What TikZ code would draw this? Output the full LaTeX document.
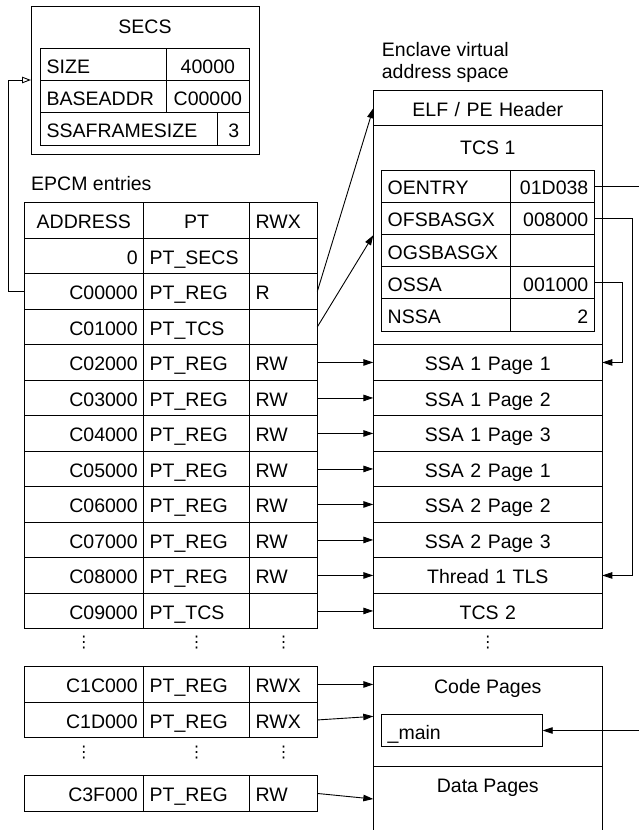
\documentclass[tikz,border=0pt]{standalone}
\usepackage{fontspec}
\setmainfont{Liberation Sans}
\newfontfamily\dejavu{DejaVu Sans}
\usetikzlibrary{arrows.meta}
\newcommand{\celltxt}{\fontsize{19.5}{22}\selectfont}
\newcommand{\vdts}{{\dejavu\fontsize{16}{16}\selectfont ⋮}}
\tikzset{
  cell/.style={draw,line width=1pt,outer sep=0pt,inner xsep=6pt,inner ysep=0pt,anchor=north west,
    minimum height=35.5,text height=17,text depth=0,font=\celltxt},
  lcell/.style={cell,minimum width=#1,text width=#1pt-12pt,align=left},
  rcell/.style={cell,minimum width=#1,text width=#1pt-12pt,align=right},
  ccell/.style={cell,minimum width=#1,text width=#1pt-12pt,align=center},
  lbl/.style={font=\celltxt,inner sep=0pt,text height=14,text depth=0},
  dots/.style={inner sep=0pt},
  ptr/.style={-{Triangle[length=10,width=6.5]},line width=0.9pt},
  optr/.style={-{Triangle[open,length=9,width=6.5]},line width=0.9pt},
}
\begin{document}
\begin{tikzpicture}[x=1pt,y=-1pt]
\useasboundingbox (0,0) rectangle (639,830);
% SECS page
\node[cell,minimum width=228,minimum height=148] (secs) at (31,6) {};
\node[lbl] (secst) at (145,26.2) {SECS};
\node[lcell=125.3,minimum height=32.1] (size) at (40.7,48.7) {SIZE};
\node[ccell=83.7,minimum height=32.1] (sizev) at (166,48.7) {40000};
\node[lcell=125.3,minimum height=32.1] (base) at (40.7,80.8) {BASEADDR};
\node[ccell=83.7,minimum height=32.1] (basev) at (166,80.8) {C00000};
\node[lcell=177,minimum height=32.1] (ssaf) at (40.7,112.9) {SSAFRAMESIZE};
\node[ccell=32,minimum height=32.1] (ssafv) at (217.7,112.9) {3};
% EPCM table
\node[lbl,anchor=west] (epcm) at (31,183) {EPCM entries};
\node[ccell=119.7] (ha) at (24,202.7) {ADDRESS};
\node[ccell=106] (hp) at (143.7,202.7) {PT};
\node[lcell=67.6] (hr) at (249.7,202.7) {RWX};
\foreach \n/\y/\addr/\ptype/\perm in {
  1/238.2/0/PT\_SECS/{},
  2/273.7/C00000/PT\_REG/R,
  3/309.2/C01000/PT\_TCS/{},
  4/344.7/C02000/PT\_REG/RW,
  5/380.2/C03000/PT\_REG/RW,
  6/415.7/C04000/PT\_REG/RW,
  7/451.2/C05000/PT\_REG/RW,
  8/486.7/C06000/PT\_REG/RW,
  9/522.2/C07000/PT\_REG/RW,
  10/557.7/C08000/PT\_REG/RW,
  11/593.2/C09000/PT\_TCS/{},
  12/666.7/C1C000/PT\_REG/RWX,
  13/702.2/C1D000/PT\_REG/RWX,
  14/775.7/C3F000/PT\_REG/RW} {
  \node[rcell=119.7] (a\n) at (24,\y) {\addr};
  \node[lcell=106] (p\n) at (143.7,\y) {\ptype};
  \node[lcell=67.6] (r\n) at (249.7,\y) {\perm};
}
\foreach \x/\c in {83.8/a,196.7/p,283.5/r} {
  \node[dots] (\c dotsa) at (\x,643) {\vdts};
  \node[dots] (\c dotsb) at (\x,752.7) {\vdts};
}
% enclave virtual address space
\node[font=\celltxt,inner sep=0pt,anchor=base west] (evas1) at (381.7,56) {Enclave virtual};
\node[font=\celltxt,inner sep=0pt,anchor=base west] (evas2) at (381.7,78.3) {address space};
\node[ccell=229,minimum height=35] (hdr) at (373.3,90.7) {ELF / PE Header};
\node[cell,minimum width=229,minimum height=219] (tcs1) at (373.3,125.7) {};
\node[lbl] (tcs1t) at (487.8,147.2) {TCS 1};
\foreach \n/\fld/\val in {1/OENTRY/01D038,2/OFSBASGX/008000,3/OGSBASGX/{},4/OSSA/001000,5/NSSA/2} {
  \node[lcell=129,minimum height=32.2] (f\n) at (381.7,{170+(\n-1)*32.2}) {\fld};
  \node[rcell=83.6,minimum height=32.2] (v\n) at (510.7,{170+(\n-1)*32.2}) {\val};
}
\foreach \n/\lab in {1/SSA 1 Page 1,2/SSA 1 Page 2,3/SSA 1 Page 3,4/SSA 2 Page 1,
  5/SSA 2 Page 2,6/SSA 2 Page 3,7/Thread 1 TLS,8/TCS 2} {
  \node[ccell=229] (m\n) at (373.3,{344.7+(\n-1)*35.5}) {\lab};
}
\node[dots] (mdots) at (487.8,643) {\vdts};
\node[cell,minimum width=229,minimum height=99.3] (code) at (373.3,666.7) {};
\node[lbl] (codet) at (487.8,686.3) {Code Pages};
\node[lcell=161,minimum height=32.4] (mainfn) at (381.7,714.3) {\_main};
\node[cell,minimum width=229,minimum height=66] (data) at (373.3,766) {};
\node[lbl] (datat) at (487.8,785.3) {Data Pages};
% connectors
\draw[optr] (a2.west) -- ++(-16,0) |- (secs.west);
\draw[ptr] (r2.east) -- (hdr.west);
\draw[ptr] (r3.east) -- (tcs1.west);
\foreach \n/\k in {4/1,5/2,6/3,7/4,8/5,9/6,10/7,11/8}
  \draw[ptr] (r\n.east) -- (m\k.west);
\draw[ptr] (r12.east) -- (r12.east -| code.west);
\draw[ptr] (r13.east) -- (code.west);
\draw[ptr] (r14.east) -- (data.west);
\draw[ptr] (v1.east) -- ++(60,0) |- (mainfn.east);
\draw[ptr] (v2.east) -- ++(38.4,0) |- (m7.east);
\draw[ptr] (v4.east) -- ++(28.4,0) |- (m1.east);
\end{tikzpicture}
\end{document}
